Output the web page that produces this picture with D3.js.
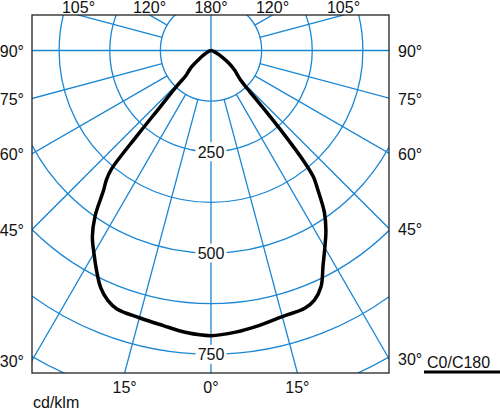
<!DOCTYPE html>
<html>
<head>
<meta charset="utf-8">
<script src="https://cdn.jsdelivr.net/npm/d3@7"></script>
<style>
  html, body { margin: 0; padding: 0; background: #fff; }
  svg { display: block; }
  text { font-family: "Liberation Sans", Arial, sans-serif; font-size: 16px; fill: #111; }
</style>
</head>
<body>
<svg id="chart" width="500" height="409"></svg>
<script>
// ---- data (cd/klm) ----
const gammaAngles = [0, 5, 10, 15, 20, 22.5, 25, 27.5, 30, 32.5, 35, 37.5, 39, 40, 41, 42, 43, 44, 45, 47.5, 50, 55, 60, 65, 70, 80, 90];
const c0Values    = [704, 698, 689, 680, 677, 667, 643, 599, 562, 528, 488, 433, 402, 355, 280, 205, 150, 120, 104, 88, 77, 52, 30, 16, 8, 2, 0];
const c180Values  = [704, 699, 689, 683, 679, 667, 645, 612, 578, 545, 499, 436, 410, 383, 275, 188, 148, 118, 88, 74, 62, 34, 18, 10, 5, 1, 0];
const gridValues  = [125, 250, 375, 500, 625, 750, 875];
const ringLabels  = [250, 500, 750];
const radialAngles = [15, 30, 45, 60, 75, 105, 120, 135, 150, 165];
const topLabels    = [{a: 105, s: -1, t: "105°"}, {a: 120, s: -1, t: "120°"}, {a: 180, s: 0, t: "180°"}, {a: 120, s: 1, t: "120°"}, {a: 105, s: 1, t: "105°"}];
const sideLabels   = [90, 75, 60, 45, 30];
const bottomLabels = [{a: 15, s: -1, t: "15°"}, {a: 0, s: 0, t: "0°"}, {a: 15, s: 1, t: "15°"}];
const unitLabel = "cd/klm";
const legendLabel = "C0/C180";

// ---- layout ----
const svg = d3.select("#chart");
const cx = 211, cy = 50.5;
const fx0 = 32, fx1 = 389, fy0 = 15, fy1 = 373;
const gridColor = "#1a86d4";
const r = d3.scaleLinear().domain([0, 750]).range([0, 303.8]);
const rad = d => d * Math.PI / 180;
const pt = (g, v, s) => [cx + s * r(v) * Math.sin(rad(g)), cy + r(v) * Math.cos(rad(g))];

svg.append("defs").append("clipPath").attr("id", "frameClip")
  .append("rect").attr("x", fx0).attr("y", fy0).attr("width", fx1 - fx0).attr("height", fy1 - fy0);

const grid = svg.append("g").attr("clip-path", "url(#frameClip)")
  .attr("stroke", gridColor).attr("stroke-width", 1.3).attr("fill", "none");

grid.selectAll("circle").data(gridValues).join("circle")
  .attr("cx", cx).attr("cy", cy).attr("r", d => r(d));

// radial lines from the first ring outward, both sides
const radials = [];
radialAngles.forEach(a => { radials.push({a, s: -1}); radials.push({a, s: 1}); });
grid.selectAll("line.rad").data(radials).join("line").attr("class", "rad")
  .attr("x1", d => pt(d.a, gridValues[0], d.s)[0]).attr("y1", d => pt(d.a, gridValues[0], d.s)[1])
  .attr("x2", d => pt(d.a, 2000, d.s)[0]).attr("y2", d => pt(d.a, 2000, d.s)[1]);
// full vertical and horizontal axes
grid.append("line").attr("x1", cx).attr("x2", cx).attr("y1", fy0).attr("y2", fy1);
grid.append("line").attr("x1", fx0).attr("x2", fx1).attr("y1", cy).attr("y2", cy);

// ---- curve ----
const pts = [];
for (let i = gammaAngles.length - 1; i >= 0; i--) pts.push(pt(gammaAngles[i], c180Values[i], -1));
for (let i = 1; i < gammaAngles.length; i++) pts.push(pt(gammaAngles[i], c0Values[i], 1));
svg.append("path")
  .attr("d", d3.line().curve(d3.curveCatmullRom.alpha(0.5))(pts))
  .attr("fill", "none").attr("stroke", "#000").attr("stroke-width", 3.5)
  .attr("stroke-linejoin", "round");

// ---- ring value labels ----
ringLabels.forEach(v => {
  const y = cy + r(v);
  svg.append("rect").attr("x", cx - 15.5).attr("y", y - 9.5).attr("width", 31).attr("height", 19).attr("fill", "#fff");
  svg.append("text").attr("x", cx).attr("y", y + 6).attr("text-anchor", "middle").text(v);
});

// ---- frame ----
svg.append("rect").attr("x", fx0).attr("y", fy0).attr("width", fx1 - fx0).attr("height", fy1 - fy0)
  .attr("fill", "none").attr("stroke", "#222").attr("stroke-width", 1.3);

// ---- angle labels ----
topLabels.forEach(d => {
  const t = (fy0 - cy) / Math.cos(rad(d.a));
  const x = cx + d.s * Math.sin(rad(d.a)) * t;
  svg.append("text").attr("x", x).attr("y", 13).attr("text-anchor", "middle").text(d.t);
});
sideLabels.forEach(a => {
  const tl = (cx - fx0) / Math.sin(rad(a));
  const yl = cy + Math.cos(rad(a)) * tl;
  svg.append("text").attr("x", 24).attr("y", yl + 6.5).attr("text-anchor", "end").text(a + "°");
  const tr = (fx1 - cx) / Math.sin(rad(a));
  const yr = cy + Math.cos(rad(a)) * tr;
  svg.append("text").attr("x", 398).attr("y", yr + 6.5).attr("text-anchor", "start").text(a + "°");
});
bottomLabels.forEach(d => {
  const t = (fy1 - cy) / Math.cos(rad(d.a));
  const x = cx + d.s * Math.sin(rad(d.a)) * t;
  svg.append("text").attr("x", x).attr("y", 393).attr("text-anchor", "middle").text(d.t);
});

svg.append("text").attr("x", 33).attr("y", 407.5).text(unitLabel);

// ---- legend ----
svg.append("text").attr("x", 427).attr("y", 368).text(legendLabel);
svg.append("line").attr("x1", 424).attr("x2", 500).attr("y1", 372).attr("y2", 372)
  .attr("stroke", "#000").attr("stroke-width", 3);
</script>
</body>
</html>
